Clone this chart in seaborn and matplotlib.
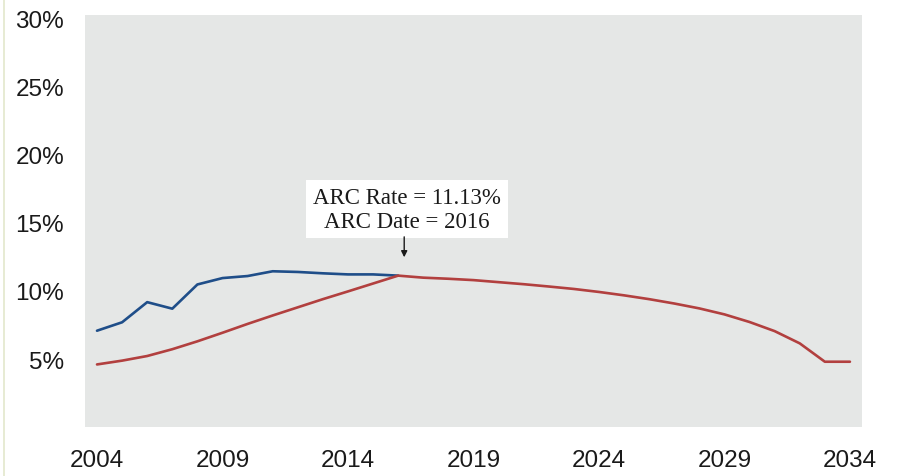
import matplotlib
matplotlib.use("Agg")
import matplotlib.pyplot as plt
from matplotlib.lines import Line2D
import seaborn as sns
import pandas as pd

# Historical rate (blue) through the ARC date
hist_years = list(range(2004, 2017))
hist_rate = [7.08, 7.70, 9.18, 8.70, 10.48, 10.95, 11.10, 11.45, 11.40, 11.30, 11.22, 11.22, 11.13]

# Smoothed / projected rate (red) across the full horizon
proj_years = list(range(2004, 2035))
proj_rate = [4.60, 4.88, 5.22, 5.72, 6.30, 6.93, 7.58, 8.20, 8.80, 9.40, 9.97, 10.55, 11.13,
             10.98, 10.90, 10.80, 10.65, 10.50, 10.33, 10.15, 9.93, 9.68, 9.40, 9.08,
             8.72, 8.28, 7.72, 7.05, 6.15, 4.80, 4.80]

arc_rate = 11.13
arc_year = 2016

x_ticks = [2004, 2009, 2014, 2019, 2024, 2029, 2034]
y_ticks = [5, 10, 15, 20, 25, 30]

sns.set_theme(style="white")
plt.rcParams["font.family"] = ["Liberation Sans", "DejaVu Sans"]

df = pd.concat([
    pd.DataFrame({"year": hist_years, "rate": hist_rate, "series": "hist"}),
    pd.DataFrame({"year": proj_years, "rate": proj_rate, "series": "proj"}),
])

fig = plt.figure(figsize=(9.01, 4.77), dpi=100)
ax = fig.add_axes([0.0943, 0.1027, 0.8624, 0.864])
ax.set_facecolor("#e5e7e6")

sns.lineplot(data=df, x="year", y="rate", hue="series",
             palette={"hist": "#1f4e89", "proj": "#b2403f"},
             hue_order=["hist", "proj"], linewidth=1.9, legend=False, ax=ax)

ax.set_xlim(2003.52, 2034.48)
ax.set_ylim(0, 30.3)
ax.set_xticks(x_ticks)
ax.set_xticklabels([str(t) for t in x_ticks])
ax.set_yticks(y_ticks)
ax.set_yticklabels([f"{t}%" for t in y_ticks])
ax.tick_params(axis="both", length=0, labelsize=17.5, colors="#1a1a1a")
ax.tick_params(axis="y", pad=15)
ax.tick_params(axis="x", pad=16)
ax.set_xlabel("")
ax.set_ylabel("")
for s in ax.spines.values():
    s.set_visible(False)

ax.text(arc_year + 0.36, 16.0,
        f"ARC Rate = {arc_rate:.2f}%\nARC Date = {arc_year}",
        ha="center", va="center", fontsize=16.5, family=["Liberation Serif"],
        color="#1a1a1a", linespacing=1.15,
        bbox=dict(boxstyle="square,pad=0.3", fc="white", ec="none"))
ax.annotate("", xy=(arc_year + 0.24, arc_rate + 1.35), xytext=(arc_year + 0.24, arc_rate + 2.85),
            arrowprops=dict(arrowstyle="-|>", color="#1a1a1a", lw=1.0, mutation_scale=9,
                            shrinkA=0, shrinkB=0))

# thin page edge on the left
fig.add_artist(Line2D([3.5 / 901, 3.5 / 901], [0, 1], transform=fig.transFigure,
                      color="#e3e8cc", lw=1.2))

fig.savefig("out.png", dpi=100, facecolor="white")
